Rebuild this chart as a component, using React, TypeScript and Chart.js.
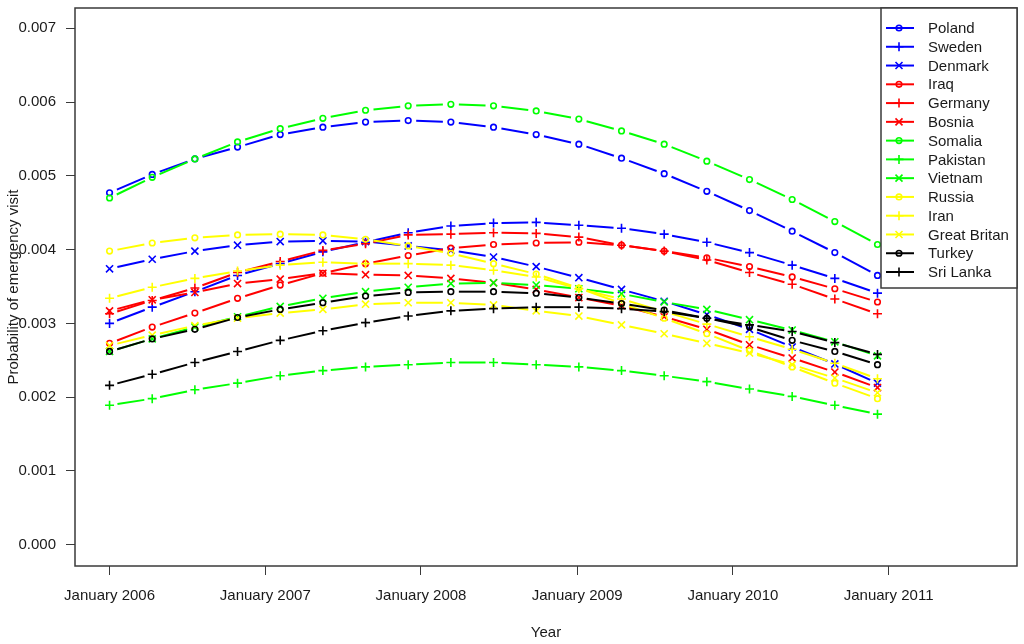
import React, { useEffect, useRef } from 'react';
import { Chart, registerables, ChartConfiguration, Plugin } from 'chart.js';

Chart.register(...registerables);

// days after 1 January 2006, one estimate every 100 days
const sampleDays = [0, 100, 200, 300, 400, 500, 600, 700, 800, 900, 1000, 1100, 1200, 1300, 1400, 1500, 1600, 1700, 1800];
const yearTickDays = [0, 365, 730, 1096, 1461, 1826];
const yearTickLabels = ['January 2006', 'January 2007', 'January 2008', 'January 2009', 'January 2010', 'January 2011'];
const yTicks = [0, 0.001, 0.002, 0.003, 0.004, 0.005, 0.006, 0.007];

const countries = ['Poland', 'Sweden', 'Denmark', 'Iraq', 'Germany', 'Bosnia', 'Somalia', 'Pakistan', 'Vietnam', 'Russia', 'Iran', 'Great Britan', 'Turkey', 'Sri Lanka'];
const colors = ['#0000ff', '#0000ff', '#0000ff', '#ff0000', '#ff0000', '#ff0000', '#00ff00', '#00ff00', '#00ff00', '#ffff00', '#ffff00', '#ffff00', '#000000', '#000000'];
const markers = ['circle', 'cross', 'crossRot', 'circle', 'cross', 'crossRot', 'circle', 'cross', 'crossRot', 'circle', 'cross', 'crossRot', 'circle', 'cross'];

const poland = [0.00477, 0.00502, 0.00523, 0.00539, 0.00556, 0.00566, 0.00573, 0.00575, 0.00573, 0.00566, 0.00556, 0.00543, 0.00524, 0.00503, 0.00479, 0.00453, 0.00425, 0.00396, 0.00365];
const sweden = [0.00300, 0.00322, 0.00343, 0.00365, 0.00381, 0.00397, 0.00410, 0.00423, 0.00432, 0.00436, 0.00437, 0.00433, 0.00429, 0.00421, 0.00410, 0.00396, 0.00379, 0.00361, 0.00341];
const denmark = [0.00374, 0.00387, 0.00398, 0.00406, 0.00411, 0.00412, 0.00411, 0.00405, 0.00399, 0.00390, 0.00377, 0.00362, 0.00346, 0.00330, 0.00312, 0.00292, 0.00268, 0.00245, 0.00219];
const iraq = [0.00273, 0.00295, 0.00314, 0.00334, 0.00352, 0.00368, 0.00381, 0.00392, 0.00402, 0.00407, 0.00409, 0.00410, 0.00406, 0.00398, 0.00389, 0.00377, 0.00363, 0.00347, 0.00329];
const germany = [0.00313, 0.00331, 0.00348, 0.00369, 0.00384, 0.00399, 0.00408, 0.00420, 0.00421, 0.00423, 0.00422, 0.00417, 0.00406, 0.00398, 0.00386, 0.00369, 0.00353, 0.00333, 0.00313];
const bosnia = [0.00317, 0.00332, 0.00342, 0.00354, 0.00360, 0.00368, 0.00366, 0.00365, 0.00361, 0.00355, 0.00346, 0.00335, 0.00324, 0.00309, 0.00292, 0.00271, 0.00253, 0.00234, 0.00213];
const somalia = [0.00470, 0.00498, 0.00523, 0.00546, 0.00564, 0.00578, 0.00589, 0.00595, 0.00597, 0.00595, 0.00588, 0.00577, 0.00561, 0.00543, 0.00520, 0.00495, 0.00468, 0.00438, 0.00407];
const pakistan = [0.00189, 0.00198, 0.00210, 0.00219, 0.00229, 0.00236, 0.00241, 0.00244, 0.00247, 0.00247, 0.00244, 0.00241, 0.00236, 0.00229, 0.00221, 0.00211, 0.00201, 0.00189, 0.00177];
const vietnam = [0.00262, 0.00279, 0.00295, 0.00309, 0.00323, 0.00334, 0.00343, 0.00349, 0.00354, 0.00355, 0.00352, 0.00347, 0.00340, 0.00329, 0.00319, 0.00305, 0.00291, 0.00275, 0.00256];
const russia = [0.00398, 0.00409, 0.00416, 0.00420, 0.00421, 0.00420, 0.00414, 0.00405, 0.00395, 0.00381, 0.00367, 0.00348, 0.00327, 0.00307, 0.00286, 0.00263, 0.00241, 0.00219, 0.00198];
const iran = [0.00334, 0.00349, 0.00361, 0.00371, 0.00379, 0.00383, 0.00381, 0.00381, 0.00379, 0.00372, 0.00363, 0.00347, 0.00333, 0.00316, 0.00299, 0.00282, 0.00265, 0.00246, 0.00225];
const greatBritan = [0.00270, 0.00284, 0.00297, 0.00307, 0.00314, 0.00319, 0.00326, 0.00328, 0.00328, 0.00325, 0.00317, 0.00310, 0.00298, 0.00286, 0.00273, 0.00260, 0.00244, 0.00226, 0.00206];
const turkey = [0.00262, 0.00279, 0.00292, 0.00308, 0.00319, 0.00328, 0.00337, 0.00342, 0.00343, 0.00343, 0.00341, 0.00335, 0.00327, 0.00318, 0.00307, 0.00295, 0.00277, 0.00262, 0.00244];
const sriLanka = [0.00216, 0.00231, 0.00247, 0.00262, 0.00277, 0.00290, 0.00301, 0.00310, 0.00317, 0.00320, 0.00322, 0.00322, 0.00320, 0.00316, 0.00307, 0.00298, 0.00289, 0.00274, 0.00258];

const seriesValues = [poland, sweden, denmark, iraq, germany, bosnia, somalia, pakistan, vietnam, russia, iran, greatBritan, turkey, sriLanka];

const FONT = '"Liberation Sans", Arial, sans-serif';
const TEXT = '#1a1a1a';
const FRAME = '#3a3a3a';
const GAP = 8;

const markerRadius = (style: string) => (style === 'circle' ? 2.8 : style === 'cross' ? 4.5 : 5);

// R style type="b": each segment is dashed so that it stops short of both points
const segLength = (ctx: any) => Math.hypot(ctx.p1.x - ctx.p0.x, ctx.p1.y - ctx.p0.y);
const gapDash = (ctx: any) => {
  const len = segLength(ctx);
  return len > 2 * GAP + 1 ? [len - 2 * GAP, 2 * GAP] : [0.01, len];
};
const gapDashOffset = (ctx: any) => {
  const len = segLength(ctx);
  return len > 2 * GAP + 1 ? len - GAP : 0;
};

const drawMarker = (c: CanvasRenderingContext2D, style: string, x: number, y: number) => {
  c.beginPath();
  if (style === 'circle') {
    c.arc(x, y, 2.8, 0, Math.PI * 2);
  } else if (style === 'cross') {
    c.moveTo(x - 4.5, y); c.lineTo(x + 4.5, y);
    c.moveTo(x, y - 4.5); c.lineTo(x, y + 4.5);
  } else {
    c.moveTo(x - 3.5, y - 3.5); c.lineTo(x + 3.5, y + 3.5);
    c.moveTo(x - 3.5, y + 3.5); c.lineTo(x + 3.5, y - 3.5);
  }
  c.stroke();
};

const noPadding = (axis: any) => {
  axis.paddingTop = 0;
  axis.paddingBottom = 0;
  axis.paddingLeft = 0;
  axis.paddingRight = 0;
};

const framePlugin: Plugin = {
  id: 'frame',
  afterDatasetsDraw(chart) {
    const { ctx, chartArea } = chart;
    ctx.save();
    ctx.strokeStyle = FRAME;
    ctx.lineWidth = 1.5;
    ctx.strokeRect(chartArea.left, chartArea.top, chartArea.right - chartArea.left, chartArea.bottom - chartArea.top);
    ctx.restore();
  },
};

const legendPlugin: Plugin = {
  id: 'boxLegend',
  afterDraw(chart) {
    const { ctx, chartArea } = chart;
    const w = 136;
    const rowH = 18.77;
    const h = 280;
    const x0 = chartArea.right - w;
    const y0 = chartArea.top;
    ctx.save();
    ctx.fillStyle = '#ffffff';
    ctx.fillRect(x0, y0, w, h);
    ctx.strokeStyle = FRAME;
    ctx.lineWidth = 1.5;
    ctx.strokeRect(x0, y0, w, h);
    ctx.font = `15px ${FONT}`;
    ctx.textBaseline = 'middle';
    ctx.textAlign = 'left';
    chart.data.datasets.forEach((ds: any, k: number) => {
      const y = y0 + 20 + k * rowH;
      ctx.strokeStyle = ds.borderColor;
      ctx.lineWidth = 2;
      ctx.beginPath();
      ctx.moveTo(x0 + 5, y);
      ctx.lineTo(x0 + 33, y);
      ctx.stroke();
      ctx.lineWidth = 1.6;
      drawMarker(ctx, ds.pointStyle, x0 + 18, y);
      ctx.fillStyle = TEXT;
      ctx.fillText(ds.label, x0 + 47, y + 1);
    });
    ctx.restore();
  },
};

const EmergencyChart: React.FC = () => {
  const canvasRef = useRef<HTMLCanvasElement | null>(null);
  const chartRef = useRef<Chart | null>(null);

  useEffect(() => {
    document.body.style.margin = '0';
    if (!canvasRef.current) return;
    const ctx = canvasRef.current.getContext('2d');
    if (!ctx) return;
    if (chartRef.current) chartRef.current.destroy();

    Chart.defaults.font.family = FONT;
    Chart.defaults.font.size = 15;
    Chart.defaults.color = TEXT;

    const config: ChartConfiguration<'line'> = {
      type: 'line',
      data: {
        datasets: countries.map((name, i) => ({
          label: name,
          data: sampleDays.map((d, j) => ({ x: d, y: seriesValues[i][j] })),
          borderColor: colors[i],
          borderWidth: 2,
          tension: 0,
          fill: false,
          pointStyle: markers[i] as any,
          pointRadius: markerRadius(markers[i]),
          pointBorderWidth: 1.6,
          pointBorderColor: colors[i],
          pointBackgroundColor: 'rgba(0,0,0,0)',
          order: countries.length - 1 - i,
          segment: { borderDash: gapDash, borderDashOffset: gapDashOffset },
        })),
      },
      options: {
        responsive: false,
        animation: false,
        events: [],
        layout: { padding: { top: 8, right: 7, left: 0, bottom: 0 } },
        plugins: {
          legend: { display: false },
          tooltip: { enabled: false },
        },
        scales: {
          x: {
            type: 'linear',
            min: -81,
            max: 2127,
            afterFit: (axis: any) => { axis.height = 78; noPadding(axis); },
            afterBuildTicks: (axis: any) => { axis.ticks = yearTickDays.map((v) => ({ value: v })); },
            ticks: {
              autoSkip: false,
              maxRotation: 0,
              padding: 12,
              callback: (v: any) => {
                const k = yearTickDays.indexOf(Number(v));
                return k >= 0 ? yearTickLabels[k] : '';
              },
            },
            grid: { drawOnChartArea: false, drawTicks: true, tickLength: 9, tickColor: FRAME, tickWidth: 1 },
            border: { display: false },
            title: { display: true, text: 'Year', padding: { top: 0, bottom: 2 } },
          },
          y: {
            type: 'linear',
            min: -0.000289,
            max: 0.007276,
            afterFit: (axis: any) => { axis.width = 75; noPadding(axis); },
            afterBuildTicks: (axis: any) => { axis.ticks = yTicks.map((v) => ({ value: v })); },
            ticks: {
              padding: 10,
              callback: (v: any) => Number(v).toFixed(3),
            },
            grid: { drawOnChartArea: false, drawTicks: true, tickLength: 9, tickColor: FRAME, tickWidth: 1 },
            border: { display: false },
            title: { display: true, text: 'Probability of emergency visit', padding: { top: 5, bottom: 0 } },
          },
        },
      },
      plugins: [framePlugin, legendPlugin],
    };

    chartRef.current = new Chart(ctx, config);

    return () => {
      if (chartRef.current) {
        chartRef.current.destroy();
        chartRef.current = null;
      }
    };
  }, []);

  return (
    <div style={{ width: '1024px', height: '644px', background: '#ffffff' }}>
      <canvas ref={canvasRef} width={1024} height={644} />
    </div>
  );
};

export default function App() {
  return <EmergencyChart />;
}
